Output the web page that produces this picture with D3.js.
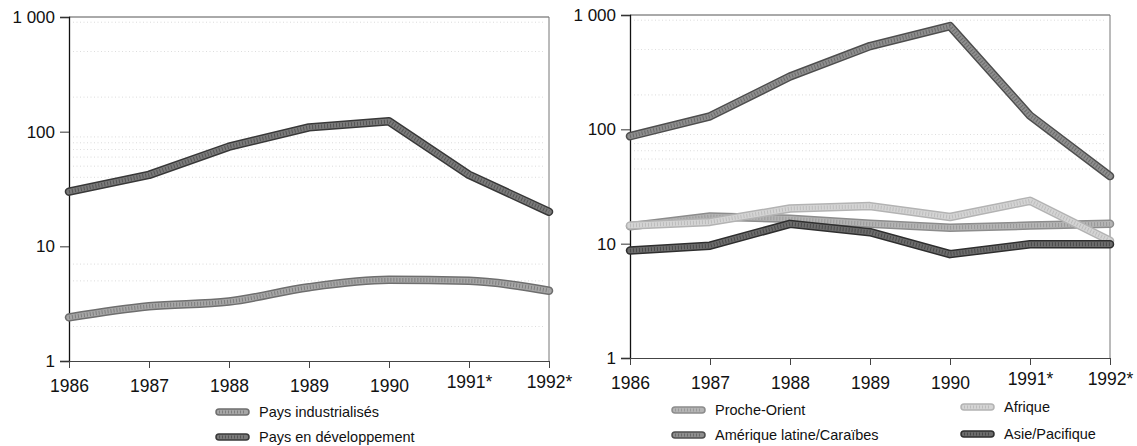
<!DOCTYPE html>
<html lang="fr">
<head>
<meta charset="utf-8">
<script src="https://cdn.jsdelivr.net/npm/d3@7"></script>
<style>
  html, body { margin: 0; padding: 0; background: #fff; }
  svg { display: block; font-family: "Liberation Sans", Arial, Helvetica, sans-serif; }
</style>
</head>
<body>
<svg id="chart" width="1137" height="446"></svg>
<script>
// Years on the x axis (starred years are estimates)
const years = ["1986", "1987", "1988", "1989", "1990", "1991*", "1992*"];

// Left panel series
const paysIndustrialises = [2.4, 3.0, 3.3, 4.4, 5.1, 5.0, 4.1];
const paysEnDeveloppement = [30, 42, 74, 109, 123, 42, 20];

// Right panel series
const procheOrient = [14.2, 17.3, 16.5, 14.9, 13.8, 14.4, 14.9];
const afrique = [14.4, 15.5, 20.3, 21.3, 17.1, 23.7, 10.6];
const ameriqueLatine = [87, 130, 290, 535, 800, 132, 39];
const asiePacifique = [8.7, 9.6, 14.9, 12.6, 8.1, 9.9, 9.9];

// Logarithmic axis ticks
const yTickValues = [1, 10, 100, 1000];
const yTickLabels = ["1", "10", "100", "1 000"];

// Faint dotted minor grid lines
const leftGridValues = [900, 500, 200, 90, 80, 70, 60, 50, 40, 7, 5, 2];
const rightGridValues = [900, 500, 200, 90, 75, 65, 55, 45];

// Legend labels
const leftLegend = ["Pays industrialisés", "Pays en développement"];
const rightLegend = ["Proche-Orient", "Afrique", "Amérique latine/Caraïbes", "Asie/Pacifique"];

// Line looks: dark edge, mid fill, speckled overlay
const styles = {
  industrialises: { edge: "#6e6e6e", fill: "#a6a6a6", speck: "#7e7e7e" },
  developpement: { edge: "#383838", fill: "#7a7a7a", speck: "#555" },
  proche: { edge: "#8c8c8c", fill: "#b4b4b4", speck: "#999" },
  afrique: { edge: "#b3b3b3", fill: "#d4d4d4", speck: "#bcbcbc" },
  amerique: { edge: "#4e4e4e", fill: "#8e8e8e", speck: "#6a6a6a" },
  asie: { edge: "#2e2e2e", fill: "#6c6c6c", speck: "#4a4a4a" }
};

const svg = d3.select("#chart");

function drawTexturedPath(g, d, st, width) {
  g.append("path").attr("d", d).attr("fill", "none")
    .attr("stroke", st.edge).attr("stroke-width", width)
    .attr("stroke-linecap", "round").attr("stroke-linejoin", "round");
  g.append("path").attr("d", d).attr("fill", "none")
    .attr("stroke", st.fill).attr("stroke-width", width - 3)
    .attr("stroke-linecap", "round").attr("stroke-linejoin", "round");
  g.append("path").attr("d", d).attr("fill", "none")
    .attr("stroke", st.speck).attr("stroke-width", width - 4.5)
    .attr("stroke-dasharray", "1 2")
    .attr("stroke-linejoin", "round");
}

function panel(opts) {
  const x = d3.scalePoint().domain(years).range([opts.x0, opts.x1]);
  const y = d3.scaleLog().domain([1, 1000]).range([opts.yBottom, opts.yTop]);
  const g = svg.append("g");

  // minor dotted grid
  g.append("g").selectAll("line").data(opts.grid).join("line")
    .attr("x1", opts.x0 + 4).attr("x2", opts.x1 - 4)
    .attr("y1", d => y(d)).attr("y2", d => y(d))
    .attr("stroke", "#b8b8b8").attr("stroke-width", 0.8)
    .attr("stroke-dasharray", "1 2.5").attr("opacity", 0.6);

  // frame: top and right borders
  g.append("line").attr("x1", opts.x0).attr("x2", opts.x1)
    .attr("y1", opts.yTop).attr("y2", opts.yTop)
    .attr("stroke", "#555").attr("stroke-width", 1);
  g.append("line").attr("x1", opts.x1).attr("x2", opts.x1)
    .attr("y1", opts.yTop).attr("y2", opts.yBottom)
    .attr("stroke", "#777").attr("stroke-width", 1);

  // y axis
  const yAxis = d3.axisLeft(y).tickValues(yTickValues)
    .tickFormat((d, i) => yTickLabels[i]).tickSize(9).tickPadding(5);
  const ya = g.append("g").attr("transform", `translate(${opts.x0},0)`).call(yAxis);
  ya.select(".domain").attr("stroke", "#111").attr("stroke-width", 1.3);
  ya.selectAll(".tick line").attr("stroke", "#333");
  ya.selectAll("text").attr("font-size", 17).attr("fill", "#111")
    .attr("font-family", "'Liberation Sans', Arial, sans-serif");

  // x axis
  const xAxis = d3.axisBottom(x).tickSize(7).tickPadding(6).tickSizeOuter(0);
  const xa = g.append("g").attr("transform", `translate(0,${opts.yBottom})`).call(xAxis);
  xa.select(".domain").attr("stroke", "#444").attr("stroke-width", 1);
  xa.selectAll(".tick line").attr("stroke", "#444");
  xa.selectAll("text").attr("font-size", 17.5).attr("fill", "#111")
    .attr("font-family", "'Liberation Sans', Arial, sans-serif")
    .attr("dy", d => d.endsWith("*") ? "0.8em" : "1.0em");

  const line = d3.line().x((d, i) => x(years[i])).y(d => y(d));
  opts.series.forEach(s => {
    const ln = s.curve ? line.curve(s.curve) : line.curve(d3.curveLinear);
    drawTexturedPath(g, ln(s.values), s.style, 8.5);
  });

  // legend
  opts.legend.forEach(item => {
    const lg = g.append("g");
    drawTexturedPath(lg, `M${item.x},${item.y}H${item.x + 27}`, item.style, 7.5);
    lg.append("text").attr("x", item.x + 40).attr("y", item.y)
      .attr("dy", "0.35em").attr("font-size", 14.5).attr("fill", "#111")
      .text(item.label);
  });
}

panel({
  x0: 69, x1: 549, yTop: 17, yBottom: 361,
  grid: leftGridValues,
  series: [
    { values: paysIndustrialises, style: styles.industrialises, curve: d3.curveMonotoneX },
    { values: paysEnDeveloppement, style: styles.developpement }
  ],
  legend: [
    { label: leftLegend[0], style: styles.industrialises, x: 219, y: 412 },
    { label: leftLegend[1], style: styles.developpement, x: 219, y: 437 }
  ]
});

panel({
  x0: 630, x1: 1110, yTop: 15, yBottom: 358,
  grid: rightGridValues,
  series: [
    { values: procheOrient, style: styles.proche },
    { values: afrique, style: styles.afrique },
    { values: asiePacifique, style: styles.asie },
    { values: ameriqueLatine, style: styles.amerique }
  ],
  legend: [
    { label: rightLegend[0], style: styles.proche, x: 675, y: 410 },
    { label: rightLegend[1], style: styles.afrique, x: 964, y: 407 },
    { label: rightLegend[2], style: styles.amerique, x: 675, y: 435 },
    { label: rightLegend[3], style: styles.asie, x: 964, y: 434 }
  ]
});
</script>
</body>
</html>
